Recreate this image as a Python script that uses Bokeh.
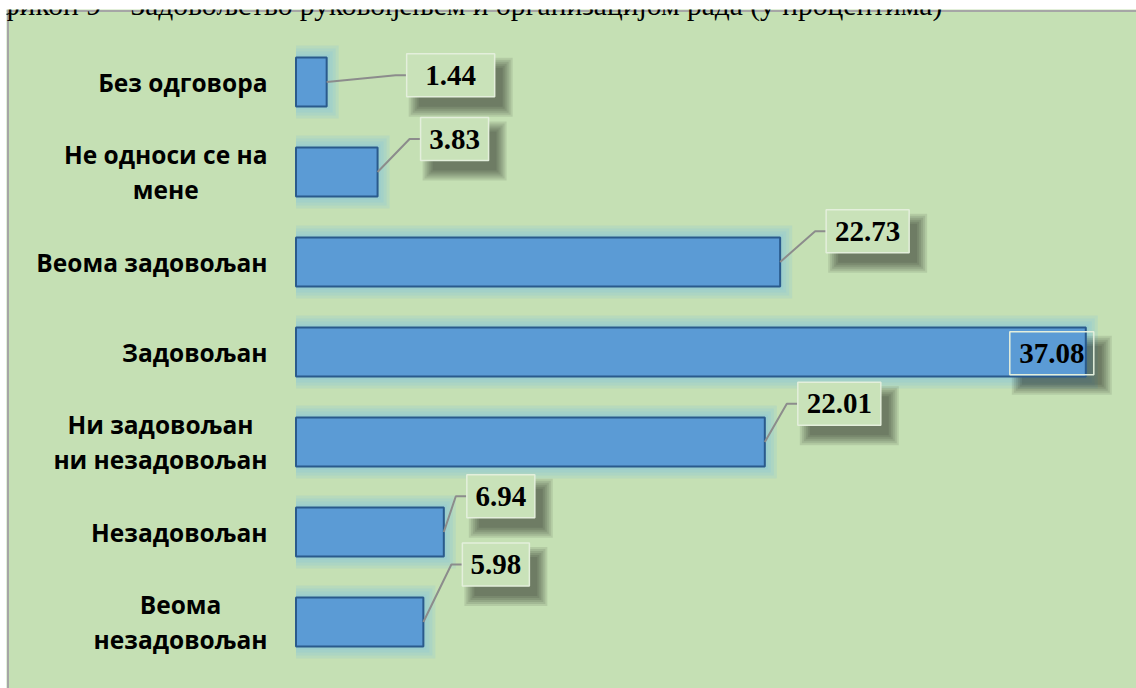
from bokeh.plotting import figure
from bokeh.models import Range1d, Label, Span
from bokeh.core.properties import value
from bokeh.embed import file_html
from bokeh.resources import INLINE

# ---------------- data ----------------
categories = ["Без одговора", "Не односи се на\nмене", "Веома задовољан", "Задовољан",
              "Ни задовољан\nни незадовољан", "Незадовољан", "Веома\nнезадовољан"]
values = [1.44, 3.83, 22.73, 37.08, 22.01, 6.94, 5.98]
title_text = "фикон 9 – Задовољство руковођењем и организацијом рада (у процентима)"

# label box layout (pixels, relative to bar end)
LABEL_DX = [80, 43, 46, -76, 33, 23, 39]
LABEL_DY = [-6.7, -33, -30.7, 1.3, -38.3, -35.8, -57.5]
LABEL_W = [88, 68, 83, 84, 83, 68, 67]
LABEL_H = 43

# ---------------- layout scales ----------------
W, H = 1136, 688
FRAME_L, FRAME_T = 6, 9
PX_X = 21.3      # pixels per percent
X0 = 295.5       # page x of zero
PX_Y = 90.0      # pixels per row
Y0 = 81.5        # page y of first row centre
BAR_H = 0.545


def xd(px):
    return (px - X0) / PX_X


def yd(py):
    return (py - Y0) / PX_Y


idx = list(range(len(categories)))

p = figure(width=W, height=H, output_backend="svg", toolbar_location=None,
           x_axis_type=None, y_axis_type=None,
           x_range=Range1d(xd(FRAME_L), xd(W)), y_range=Range1d(yd(H), yd(FRAME_T)),
           min_border_left=FRAME_L, min_border_top=FRAME_T,
           min_border_right=0, min_border_bottom=0,
           styles={"position": "absolute", "left": "0px", "top": "0px"})
p.background_fill_color = "#C5E0B4"
p.border_fill_color = "white"
p.outline_line_color = None
p.grid.visible = False

# chart-area border (left and top edges only; others lie beyond the window)
p.add_layout(Span(location=xd(7.5), dimension="height", line_color="#A6A6A6", line_width=2))
p.add_layout(Span(location=yd(10.5), dimension="width", line_color="#A6A6A6", line_width=2))

# glow around bars
for e in [12, 9, 6, 3]:
    p.quad(left=[0] * len(values), right=[v + e / PX_X for v in values],
           top=[i - BAR_H / 2 - e / PX_Y for i in idx],
           bottom=[i + BAR_H / 2 + e / PX_Y for i in idx],
           fill_color="#7CC3E3", fill_alpha=0.18, line_color=None)

# label geometry
cx = [v + (dx + w / 2) / PX_X for v, dx, w in zip(values, LABEL_DX, LABEL_W)]
cy = [i + dy / PX_Y for i, dy in zip(idx, LABEL_DY)]

# shadows of label boxes
for k in [8, 6, 4, 2, 0, -2]:
    p.rect(x=[c + 10 / PX_X for c in cx], y=[c + 12 / PX_Y for c in cy],
           width=[w + 2 * k for w in LABEL_W], height=LABEL_H + 2 * k,
           width_units="screen", height_units="screen",
           fill_color="black", fill_alpha=0.09, line_color=None)

# bars
p.hbar(y=idx, left=0, right=values, height=BAR_H,
       fill_color="#5B9BD5", line_color="#2A5A8C", line_width=2)

# leader lines
xs, ys = [], []
for i, v in enumerate(values):
    if LABEL_DX[i] < 0:
        continue
    bl = v + LABEL_DX[i] / PX_X
    xs.append([v, bl - 11 / PX_X, bl])
    ys.append([i, cy[i], cy[i]])
p.multi_line(xs=xs, ys=ys, line_color="#8C8C8C", line_width=2)

# label boxes
box_alpha = [0.0 if dx < 0 else 1.0 for dx in LABEL_DX]
p.rect(x=cx, y=cy, width=LABEL_W, height=LABEL_H,
       width_units="screen", height_units="screen",
       fill_color="#C9E2B9", fill_alpha=box_alpha,
       line_color="#E4EFDC", line_width=1.5)

# value texts
p.text(x=cx, y=cy, text=["{:.2f}".format(v) for v in values],
       text_align="center", text_baseline="middle",
       text_font=value("Liberation Serif"), text_font_style="bold",
       text_font_size="29px", text_color="black")

# category labels
p.text(x=[xd(267)] * len(categories), y=idx, text=categories,
       anchor="center_right", text_align="center", text_baseline="middle",
       text_font=value("Open Sans"), text_font_style="bold",
       text_font_size="24.5px", text_line_height=1.07, text_color="black")

# (cropped) title above chart
p.add_layout(Label(x=xd(0), y=yd(4), text=title_text,
                   text_font="Liberation Serif", text_font_size="29.5px",
                   text_align="left", text_baseline="alphabetic",
                   text_color="black"))

open("out.html", "w").write(file_html(p, INLINE))
